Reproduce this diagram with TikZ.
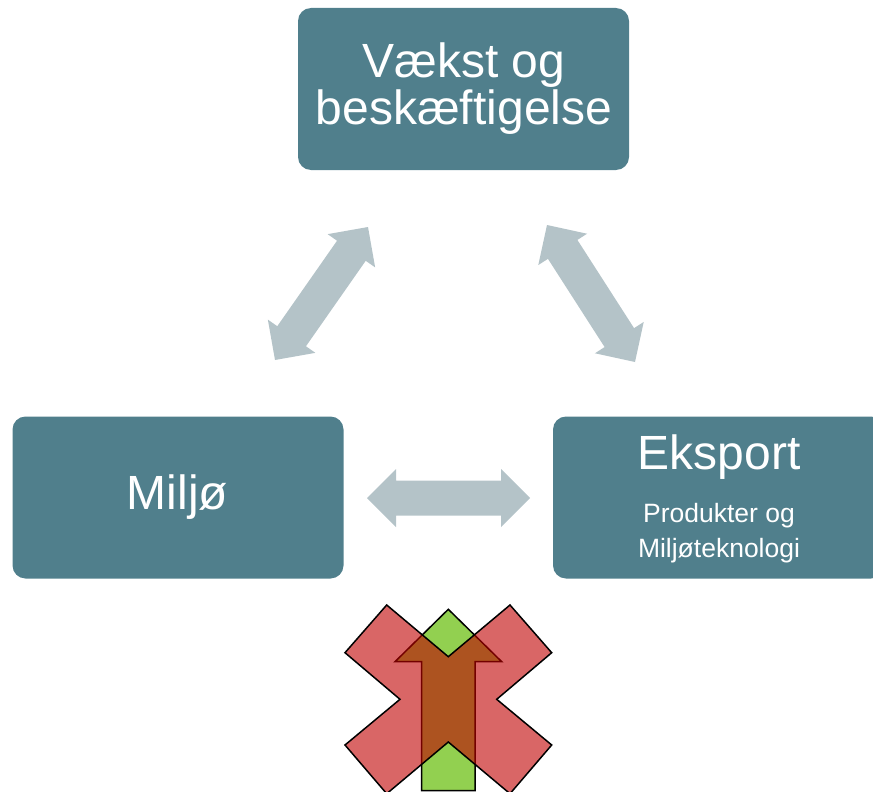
\documentclass[tikz,border=0pt]{standalone}
\usepackage{fontspec}
\setmainfont{Liberation Sans}
\usetikzlibrary{calc}
\definecolor{boxteal}{RGB}{80,127,140}
\definecolor{arrgrey}{RGB}{180,195,200}
\definecolor{xred}{RGB}{192,0,0}
\definecolor{agreen}{RGB}{146,208,80}
\newcommand\dblarr[2]{%
  \path ($(#1)!29pt!(#2)$) coordinate (h1) ($(#2)!29pt!(#1)$) coordinate (h2);
  \fill[arrgrey] (#1) -- ($(h1)!29pt!90:(#2)$) -- ($(h1)!17.5pt!90:(#2)$)
    -- ($(h2)!17.5pt!-90:(#1)$) -- ($(h2)!29pt!-90:(#1)$) -- (#2)
    -- ($(h2)!29pt!90:(#1)$) -- ($(h2)!17.5pt!90:(#1)$)
    -- ($(h1)!17.5pt!-90:(#2)$) -- ($(h1)!29pt!-90:(#2)$) -- cycle;}
\begin{document}
\begin{tikzpicture}[x=1pt,y=-1pt,
  box/.style={fill=boxteal, rounded corners=13pt, minimum width=331pt, minimum height=162pt, inner sep=0pt},
  big/.style={text=white, inner sep=0pt, anchor=base, font=\fontsize{48}{48}\selectfont},
  small/.style={text=white, inner sep=0pt, anchor=base, font=\fontsize{26.5}{30}\selectfont}]
\useasboundingbox (0,0) rectangle (873,792);
\clip (0,0) rectangle (873,792);
% boxes
\node[box] (top) at (463.5,89) {};
\node[box] (left) at (178,497.5) {};
\node[box] (right) at (718.5,497.5) {};
\node[big] (t1) at (464,77.3) {Vækst og};
\node[big] (t2) at (464,124.3) {beskæftigelse};
\node[big] (mil) at (177.5,509) {Miljø};
\node[big] (eks) at (719,469) {Eksport};
\node[small] (prod) at (719,522) {Produkter og};
\node[small] (tek) at (719,557) {Miljøteknologi};
% grey double arrows
\coordinate (a1) at (275,360);
\coordinate (a2) at (368,227);
\coordinate (b1) at (547,225);
\coordinate (b2) at (635,362);
\coordinate (c1) at (367,498);
\coordinate (c2) at (530,498);
\dblarr{a1}{a2}
\dblarr{b1}{b2}
\dblarr{c1}{c2}
% green up arrow
\draw[fill=agreen, line width=1.5pt, line join=miter] (448.3,609.3) -- (501.7,661.7) -- (475,661.7) -- (475,790.5)
  -- (421.7,790.5) -- (421.7,661.7) -- (395,661.7) -- cycle;
% red X
\draw[fill=xred, fill opacity=0.6, line width=1.5pt, line join=miter]
  (386.7,605) -- (448.3,656.7) -- (510,605) -- (551.7,652.7) -- (496.7,699.3)
  -- (551.7,745) -- (510,793.7) -- (448.3,742) -- (386.7,793.7) -- (345,745)
  -- (400,699.3) -- (345,652.7) -- cycle;
\end{tikzpicture}
\end{document}
